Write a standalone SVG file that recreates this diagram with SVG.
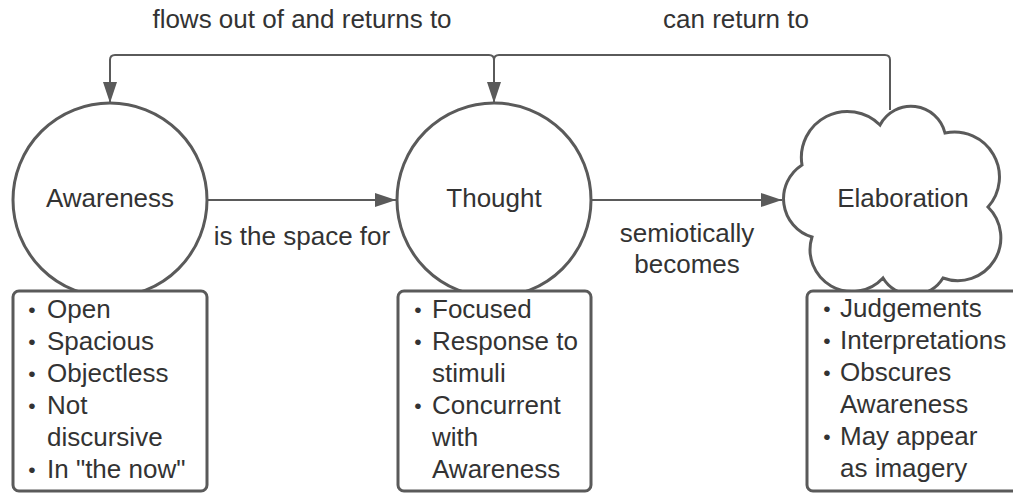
<svg xmlns="http://www.w3.org/2000/svg" width="1013" height="493" viewBox="0 0 1013 493">
  <style>
    text { font-family: "Liberation Sans", Arial, sans-serif; font-size: 26px; fill: #333333; }
    .mid { text-anchor: middle; }
    .bul { text-anchor: middle; font-size: 21px; }
    .shape { fill: #ffffff; stroke: #5a5a5a; stroke-width: 3; }
    .conn { fill: none; stroke: #5a5a5a; stroke-width: 2; }
  </style>
  <defs>
    <marker id="arrow" markerUnits="userSpaceOnUse" markerWidth="22" markerHeight="14" refX="21" refY="7" orient="auto">
      <path d="M0,0 L21,7 L0,14 Z" fill="#5a5a5a"/>
    </marker>
  </defs>
  <rect width="1013" height="493" fill="#ffffff"/>

  <g id="connectors">
    <path class="conn" d="M494,103 V60 Q494,55 489,55 H115 Q110,55 110,60 V103" marker-end="url(#arrow)"/>
    <path class="conn" d="M890,110 V60 Q890,55 885,55 H499 Q494,55 494,60 V103" marker-end="url(#arrow)"/>
    <path class="conn" d="M208,200 H396" marker-end="url(#arrow)"/>
    <path class="conn" d="M592,200 H782" marker-end="url(#arrow)"/>
    <text class="mid" x="302" y="28">flows out of and returns to</text>
    <text class="mid" x="736" y="28">can return to</text>
    <text class="mid" x="302" y="245">is the space for</text>
    <text class="mid" x="687" y="242">semiotically</text>
    <text class="mid" x="687" y="273">becomes</text>
  </g>

  <g id="awareness">
    <circle class="shape" cx="110" cy="200" r="97"/>
    <text class="mid" x="110" y="207">Awareness</text>
  </g>

  <g id="thought">
    <circle class="shape" cx="494" cy="200" r="97"/>
    <text class="mid" x="494" y="207">Thought</text>
  </g>

  <g id="elaboration">
    <path class="shape" d="M802,165 A46,46 0 0 1 880,125 A35,35 0 0 1 945,133 A45,45 0 0 1 988,207 A43,43 0 0 1 943,278 A35,35 0 0 1 883,278 A42,42 0 0 1 812,237 A40,40 0 0 1 802,165 Z"/>
    <text class="mid" x="903" y="207">Elaboration</text>
  </g>

  <g id="awareness-list">
    <rect class="shape" x="13" y="291" width="194" height="200" rx="6"/>
    <text class="bul" x="32" y="317">•</text><text x="47" y="318">Open</text>
    <text class="bul" x="32" y="349">•</text><text x="47" y="350">Spacious</text>
    <text class="bul" x="32" y="381">•</text><text x="47" y="382">Objectless</text>
    <text class="bul" x="32" y="413">•</text><text x="47" y="414">Not</text>
    <text x="47" y="446">discursive</text>
    <text class="bul" x="32" y="477">•</text><text x="47" y="478">In "the now"</text>
  </g>

  <g id="thought-list">
    <rect class="shape" x="398" y="291" width="193" height="200" rx="6"/>
    <text class="bul" x="418" y="317">•</text><text x="432" y="318">Focused</text>
    <text class="bul" x="418" y="349">•</text><text x="432" y="350">Response to</text>
    <text x="432" y="382">stimuli</text>
    <text class="bul" x="418" y="413">•</text><text x="432" y="414">Concurrent</text>
    <text x="432" y="446">with</text>
    <text x="432" y="478">Awareness</text>
  </g>

  <g id="elaboration-list">
    <rect class="shape" x="807" y="291" width="215" height="200" rx="6"/>
    <text class="bul" x="827" y="316">•</text><text x="840" y="317">Judgements</text>
    <text class="bul" x="827" y="348">•</text><text x="840" y="349">Interpretations</text>
    <text class="bul" x="827" y="380">•</text><text x="840" y="381">Obscures</text>
    <text x="840" y="413">Awareness</text>
    <text class="bul" x="827" y="444">•</text><text x="840" y="445">May appear</text>
    <text x="840" y="477">as imagery</text>
  </g>
</svg>
